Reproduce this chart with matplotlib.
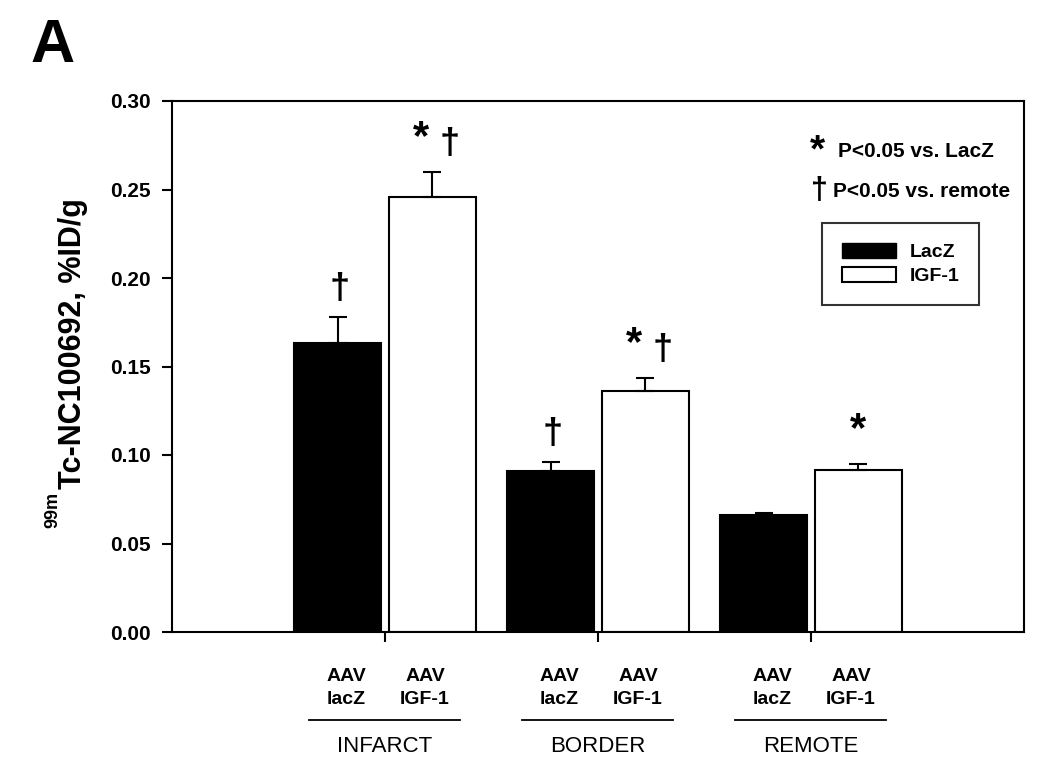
import numpy as np
import matplotlib
matplotlib.use("Agg")
import matplotlib.pyplot as plt
from matplotlib.patches import Patch

plt.rcParams['font.family'] = ['Liberation Sans', 'DejaVu Sans']

# data
regions = ['INFARCT', 'BORDER', 'REMOTE']
lacz_vals = [0.163, 0.091, 0.066]
lacz_err = [0.015, 0.005, 0.001]
igf_vals = [0.246, 0.136, 0.0915]
igf_err = [0.014, 0.0075, 0.0035]
# significance marks above each bar
lacz_marks = ['†', '†', '']
igf_marks = ['* †', '* †', '*']

W, H = 1050, 763
fig = plt.figure(figsize=(W / 100, H / 100), dpi=100)
ax = fig.add_axes([172 / W, 1 - 632 / H, 852 / W, 531 / H])

x = np.arange(1, len(regions) + 1)
w = 0.41
off = 0.223

ax.bar(x - off, lacz_vals, w, color='black', edgecolor='black', linewidth=1.5)
ax.bar(x + off, igf_vals, w, color='white', edgecolor='black', linewidth=1.5)
ax.errorbar(x - off, lacz_vals, yerr=[np.zeros(3), lacz_err], fmt='none',
            ecolor='black', elinewidth=1.5, capsize=6.5, capthick=1.5)
ax.errorbar(x + off, igf_vals, yerr=[np.zeros(3), igf_err], fmt='none',
            ecolor='black', elinewidth=1.5, capsize=6.5, capthick=1.5)

ax.set_xlim(0, 4)
ax.set_ylim(0, 0.30)
yt = np.arange(0, 0.301, 0.05)
ax.set_yticks(yt)
ax.set_yticklabels([f'{v:.2f}' for v in yt], fontsize=15, fontweight='bold')
ax.set_xticks(x)
ax.set_xticklabels([])
ax.tick_params(direction='out', length=7, width=1.5)
ax.tick_params(axis='y', pad=8)
for s in ax.spines.values():
    s.set_linewidth(1.5)

# y label built from two texts (superscript 99m)
fig.text(73 / W, 1 - 344 / H, 'Tc-NC100692, %ID/g', rotation=90, ha='center',
         va='center', fontsize=22, fontweight='bold')
fig.text(53 / W, 1 - 510 / H, '99m', rotation=90, ha='center', va='center',
         fontsize=13, fontweight='bold')


def put_mark(xp, top, m):
    if m == '*':
        ax.text(xp, top + 0.013, '*', ha='center', va='baseline',
                fontsize=30, fontweight='bold')
    else:
        ax.text(xp, top + 0.010, '†', ha='center', va='baseline',
                fontsize=26, fontweight='bold')


for i in range(3):
    if lacz_marks[i]:
        put_mark(x[i] - off + 0.01, lacz_vals[i] + lacz_err[i], '†')
    parts = igf_marks[i].split()
    if len(parts) == 2:
        put_mark(x[i] + off - 0.055, igf_vals[i] + igf_err[i], '*')
        put_mark(x[i] + off + 0.08, igf_vals[i] + igf_err[i], '†')
    elif parts:
        put_mark(x[i] + off, igf_vals[i] + igf_err[i], parts[0])

# group labels below the axis
tr = ax.get_xaxis_transform()
for i, r in enumerate(regions):
    for dx, sub in [(-0.183, 'lacZ'), (0.188, 'IGF-1')]:
        ax.text(x[i] + dx, -0.083, 'AAV', transform=tr, ha='center', va='center',
                fontsize=14, fontweight='bold')
        ax.text(x[i] + dx, -0.128, sub, transform=tr, ha='center', va='center',
                fontsize=14, fontweight='bold')
    ax.plot([x[i] - 0.355, x[i] + 0.35], [-0.166, -0.166], transform=tr,
            color='black', linewidth=1.3, clip_on=False)
    ax.text(x[i], -0.215, r, transform=tr, ha='center', va='center', fontsize=16)

# significance key
ax.text(0.758, 0.905, '*', transform=ax.transAxes, ha='center', va='center',
        fontsize=28, fontweight='bold')
ax.text(0.782, 0.904, 'P<0.05 vs. LacZ', transform=ax.transAxes, ha='left',
        va='center', fontsize=15, fontweight='bold')
ax.text(0.760, 0.830, '†', transform=ax.transAxes, ha='center', va='center',
        fontsize=22, fontweight='bold')
ax.text(0.776, 0.829, 'P<0.05 vs. remote', transform=ax.transAxes, ha='left',
        va='center', fontsize=15, fontweight='bold')

handles = [Patch(facecolor='black', edgecolor='black', label='LacZ'),
           Patch(facecolor='white', edgecolor='black', linewidth=1.5, label='IGF-1')]
leg = ax.legend(handles=handles, loc='upper left', bbox_to_anchor=(0.763, 0.770),
                frameon=True, fancybox=False, edgecolor='black',
                prop={'size': 14, 'weight': 'bold'},
                handlelength=2.8, handleheight=0.85, borderpad=1.0,
                labelspacing=0.3, handletextpad=0.7, borderaxespad=0)
leg.get_frame().set_linewidth(1.5)

fig.text(30 / W, 1 - 46 / H, 'A', fontsize=44, fontweight='bold', ha='left', va='center')

fig.savefig('out.png', dpi=100)
